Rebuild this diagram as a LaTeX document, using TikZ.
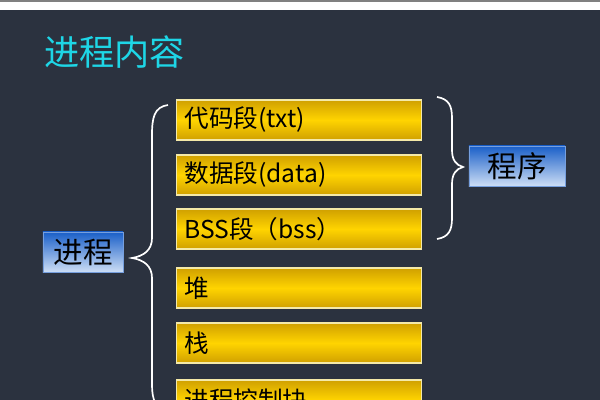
\documentclass[tikz,border=0pt]{standalone}
\usepackage{fontspec}
\setmainfont{Noto Sans CJK SC}
\usetikzlibrary{shadings}

\definecolor{slidebg}{RGB}{43,50,63}
\definecolor{titlecyan}{RGB}{30,214,230}
\definecolor{golddark}{RGB}{208,160,0}
\definecolor{goldlight}{RGB}{255,212,0}
\definecolor{goldrim}{RGB}{244,233,168}
\definecolor{bluedark}{RGB}{26,95,200}
\definecolor{bluelight}{RGB}{205,222,245}

\begin{document}
\begin{tikzpicture}[x=0.025cm, y=-0.025cm,
    segbox/.style={draw=goldrim, line width=0.8pt, top color=golddark, bottom color=golddark, middle color=goldlight,
        minimum width=6.125cm, minimum height=1cm, text width=5.725cm, inner xsep=0.2cm, align=left, anchor=west,
        font=\fontsize{17.5}{20}\selectfont, text=black},
    tagbox/.style={draw=bluedark!60!white, line width=0.5pt, top color=bluedark, bottom color=bluelight,
        minimum height=1cm, font=\fontsize{21}{24}\selectfont, text=black},
    curl/.style={draw=white, line width=1.2pt}]
	\clip (0,0) rectangle (600,400);
	\fill[slidebg] (0,0) rectangle (600,400);
	\fill[white] (0,0) rectangle (600,10);
	\fill[gray] (0,0) rectangle (600,2);

	\node[anchor=west, inner sep=0, text=titlecyan, font=\fontsize{25}{29}\selectfont] (title) at (44,52) {进程内容};

	\node[segbox] (txt) at (176,120) {代码段(txt)};
	\node[segbox] (data) at (176,175) {数据段(data)};
	\node[segbox] (bss) at (176,229) {BSS段（bss）};
	\node[segbox] (heap) at (176,288) {堆};
	\node[segbox] (stack) at (176,343) {栈};
	\node[segbox] (pcb) at (176,400) {进程控制块};

	\node[tagbox, minimum width=2cm] (proc) at (83,252) {进程};
	\node[tagbox, minimum width=2.4cm] (prog) at (517,166) {程序};

	% braces
	\draw[curl] (168,105) .. controls (154,107) and (152,118) .. (152,135) -- (152,238)
	    .. controls (152,250) and (144,256) .. (132,258)
	    .. controls (144,260) and (152,266) .. (152,278) -- (152,385)
	    .. controls (152,400) and (156,410) .. (168,412);
	\draw[curl] (437,97) .. controls (449,99) and (452,106) .. (452,118) -- (452,150)
	    .. controls (452,160) and (456,165) .. (463,167)
	    .. controls (456,169) and (452,174) .. (452,184) -- (452,218)
	    .. controls (452,230) and (449,237) .. (437,239);
\end{tikzpicture}
\end{document}
